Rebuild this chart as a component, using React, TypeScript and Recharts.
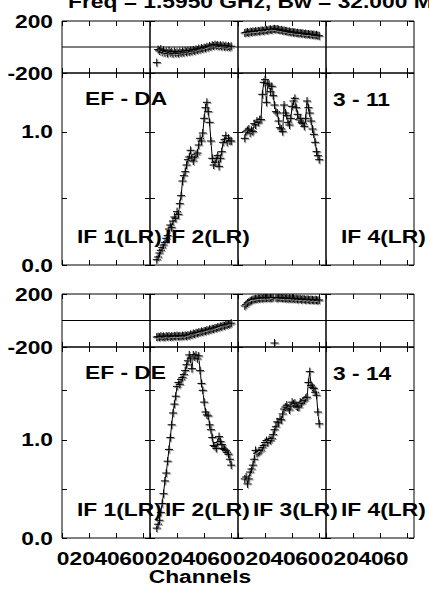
import React from "react";
import { ComposedChart, Line, XAxis, YAxis, ReferenceLine } from "recharts";

const W = 429;
const H = 594;
const FONT = "'Liberation Sans', Arial, Helvetica, sans-serif";

const title = "Freq = 1.5950 GHz, Bw = 32.000 MHz";
const ifNames = ["IF 1(LR)", "IF 2(LR)", "IF 3(LR)", "IF 4(LR)"];
const chanTicks = [0, 20, 40, 60];
const phaseTicks = [-200, 200];
const ampTicksDA = [0, 0.5, 1.0];
const ampTicksDE = [0, 0.5, 1.0, 1.5];

const channels = [
  5, 6, 7, 8, 9, 10, 11, 12, 13, 14, 15, 16, 17, 18, 19, 20, 21, 22, 23, 24, 25, 26, 27, 28,
  29, 30, 31, 32, 33, 34, 35, 36, 37, 38, 39, 40, 41, 42, 43, 44, 45, 46, 47, 48, 49, 50, 51,
  52, 53, 54, 55, 56, 57, 58, 59, 60,
];

// EF - DA  (3 - 11)
const phaseDA_IF2 = [
  -120, -20, -30, -15, -40, -25, -45, -35, -50, -30, -45, -38, -52, -35, -48, -40, -50, -36, -46,
  -34, -44, -30, -40, -28, -38, -26, -34, -22, -30, -18, -24, -12, -20, -8, -14, -4, -10, 2, -4,
  8, 2, 14, 8, 18, 10, 16, 6, 14, 4, 12, 2, 10, 0, 8, -2, 6,
];
const phaseDA_IF3 = [
  108, 112, 115, 110, 118, 115, 120, 117, 122, 119, 124, 121, 126, 128, 124, 130, 132, 128, 134,
  136, 132, 138, 140, 136, 138, 134, 130, 132, 126, 128, 122, 124, 118, 120, 114, 116, 112, 114,
  108, 110, 106, 108, 104, 106, 100, 104, 98, 100, 96, 98, 94, 96, 90, 94, 88, 86,
];
const ampDA_IF2 = [
  0.04, 0.06, 0.09, 0.11, 0.13, 0.15, 0.17, 0.2, 0.22, 0.27, 0.3, 0.28, 0.33, 0.36, 0.35, 0.4,
  0.38, 0.46, 0.52, 0.63, 0.67, 0.7, 0.75, 0.79, 0.81, 0.86, 0.8, 0.78, 0.81, 0.83, 0.84, 0.9,
  0.95, 0.93, 0.99, 1.1, 1.18, 1.22, 1.15, 1.07, 0.93, 0.8, 0.75, 0.77, 0.8, 0.82, 0.74, 0.8,
  0.85, 0.92, 0.94, 0.97, 0.92, 0.95, 0.93, 0.93,
];
const ampDA_IF3 = [
  0.95, 1.0, 1.01, 1.02, 0.99, 1.01, 1.0, 1.06, 1.05, 1.08, 1.07, 1.09, 1.09, 1.28, 1.37, 1.39,
  1.22, 1.36, 1.35, 1.3, 1.34, 1.27, 1.2, 1.15, 1.14, 1.08, 1.03, 1.02, 1.0, 1.2, 1.14, 1.12,
  1.07, 1.05, 1.1, 1.19, 1.23, 1.25, 1.18, 1.13, 1.09, 1.1, 1.07, 1.06, 1.04, 1.1, 1.23, 1.18,
  1.14, 1.08, 1.02, 0.98, 0.92, 0.85, 0.82, 0.79,
];

// EF - DE  (3 - 14)
const phaseDE_IF2 = [
  -125, -122, -126, -118, -124, -120, -126, -118, -122, -116, -124, -118, -122, -116, -120, -114,
  -120, -116, -120, -114, -118, -112, -118, -110, -114, -104, -108, -98, -102, -92, -96, -88,
  -90, -82, -86, -78, -80, -72, -76, -66, -70, -62, -64, -56, -58, -50, -52, -44, -46, -38, -40,
  -32, -34, -26, -28, -20,
];
const phaseDE_IF3 = [
  110, 120, 132, 140, 148, 152, 158, 160, 164, 162, 168, 165, 170, 166, 172, 168, 170, 174, 168,
  172, 170, 174, -170, 172, 168, 174, 170, 172, 168, 170, 166, 170, 164, 168, 166, 164, 168, 162,
  166, 160, 164, 162, 158, 162, 160, 156, 160, 158, 155, 158, 156, 153, 157, 154, 152, 155,
];
const ampDE_IF2 = [
  0.1, 0.14, 0.18, 0.26, 0.35, 0.45, 0.58, 0.66, 0.78, 0.9, 1.02, 1.15, 1.27, 1.36, 1.44, 1.54,
  1.58, 1.56, 1.61, 1.63, 1.66, 1.7, 1.76, 1.8, 1.86, 1.82, 1.72, 1.86, 1.84, 1.86, 1.82, 1.85,
  1.7, 1.57, 1.5, 1.38, 1.28, 1.25, 1.24, 1.15, 1.1, 1.02, 0.94, 0.93, 0.91, 0.97, 1.03, 0.98,
  0.95, 0.91, 0.9, 0.89, 0.87, 0.85, 0.8, 0.74,
];
const ampDE_IF3 = [
  0.6, 0.62, 0.55, 0.6, 0.67, 0.7, 0.74, 0.8, 0.89, 0.86, 0.87, 0.88, 0.89, 0.92, 0.94, 0.97,
  0.99, 0.97, 1.0, 0.99, 1.01, 1.05, 1.1, 1.13, 1.18, 1.17, 1.21, 1.2, 1.26, 1.31, 1.33, 1.35,
  1.32, 1.3, 1.34, 1.38, 1.36, 1.37, 1.34, 1.33, 1.33, 1.38, 1.37, 1.39, 1.4, 1.42, 1.43, 1.58,
  1.69, 1.55, 1.53, 1.52, 1.48, 1.45, 1.28, 1.16,
];

const baselines = [
  {
    name: "EF - DA",
    num: "3 - 11",
    ampMax: 1.44,
    ampTicks: ampTicksDA,
    phase: [null, phaseDA_IF2, phaseDA_IF3, null],
    amp: [null, ampDA_IF2, ampDA_IF3, null],
    ifShown: [true, true, false, true],
  },
  {
    name: "EF - DE",
    num: "3 - 14",
    ampMax: 1.94,
    ampTicks: ampTicksDE,
    phase: [null, phaseDE_IF2, phaseDE_IF3, null],
    amp: [null, ampDE_IF2, ampDE_IF3, null],
    ifShown: [true, true, true, true],
  },
];

// page layout (px)
const COL_LEFT = [62, 150, 238, 326];
const COL_W = 88;
const TICK = 5;
const rowsPx = [
  { phaseTop: 21, split: 73, bottom: 265 },
  { phaseTop: 294, split: 347, bottom: 538 },
];

const snap = (v: number) => Math.round(v) + 0.5;

function SText({ x, y, anchor = "start", children }: any) {
  return (
    <text
      transform={`translate(${x} ${y}) scale(1.2 1)`}
      textAnchor={anchor}
      fontFamily={FONT}
      fontWeight={700}
      fontSize={19}
      fill="#000"
    >
      {children}
    </text>
  );
}

const renderCross = (p: any) => {
  const { cx, cy, index } = p;
  if (cx == null || cy == null) return <g key={`c${index}`} />;
  return (
    <g key={`c${index}`} fill="none">
      <path
        d={`M${cx - 3},${cy + 1}H${cx + 5}M${cx + 1},${cy - 3}V${cy + 5}`}
        stroke="#9a9a9a"
        strokeWidth={1}
      />
      <path d={`M${cx - 4},${cy}H${cx + 4}M${cx},${cy - 4}V${cy + 4}`} stroke="#000" strokeWidth={1} />
    </g>
  );
};

type PanelProps = {
  col: number;
  top: number;
  bottom: number;
  domain: [number, number];
  yTicks: number[];
  phase: boolean;
  values: number[] | null;
  xLabels: boolean;
};

function Panel({ col, top, bottom, domain, yTicks, phase, values, xLabels }: PanelProps) {
  const left = COL_LEFT[col];
  const right = left + COL_W;
  const pts = values ? channels.map((ch, i) => ({ ch, v: values[i] })) : [];

  // tick marks point into the panel; labels sit outside
  const bottomTick = (p: any) => {
    const v = Number(p.payload.value);
    const dx = v === 0 ? 1 : -(4.5 + 0.115 * v);
    const x = snap(p.x);
    return (
      <g>
        <line x1={x} x2={x} y1={bottom} y2={bottom - TICK} stroke="#000" strokeWidth={1} />
        {xLabels && (
          <SText x={p.x + dx} y={bottom + 26.5} anchor="middle">
            {String(v)}
          </SText>
        )}
      </g>
    );
  };
  const topTick = (p: any) => {
    const x = snap(p.x);
    return <line x1={x} x2={x} y1={top} y2={top + TICK} stroke="#000" strokeWidth={1} />;
  };
  const leftTick = (p: any) => {
    const v = Number(p.payload.value);
    const show = col === 0 && (phase || Number.isInteger(v));
    const y = snap(p.y);
    return (
      <g>
        <line x1={left} x2={left + TICK} y1={y} y2={y} stroke="#000" strokeWidth={1} />
        {show && (
          <SText x={left - 9} y={p.y + 6.8} anchor="end">
            {phase ? String(v) : v.toFixed(1)}
          </SText>
        )}
      </g>
    );
  };
  const rightTick = (p: any) => {
    const y = snap(p.y);
    return <line x1={right - TICK} x2={right} y1={y} y2={y} stroke="#000" strokeWidth={1} />;
  };

  return (
    <div style={{ position: "absolute", left: 0, top: 0 }}>
      <ComposedChart
        width={W}
        height={H}
        margin={{ top: top - 1, bottom: H - bottom - 1, left: left - 1, right: W - right - 1 }}
      >
        <XAxis
          xAxisId="b"
          orientation="bottom"
          type="number"
          dataKey="ch"
          domain={[0, 65]}
          ticks={chanTicks}
          interval={0}
          height={1}
          tickSize={0}
          tickLine={false}
          stroke="#000"
          tick={bottomTick}
          allowDataOverflow
        />
        <XAxis
          xAxisId="t"
          orientation="top"
          type="number"
          dataKey="ch"
          domain={[0, 65]}
          ticks={chanTicks}
          interval={0}
          height={1}
          tickSize={0}
          tickLine={false}
          stroke="#000"
          tick={topTick}
          allowDataOverflow
        />
        <YAxis
          yAxisId="l"
          orientation="left"
          type="number"
          domain={domain}
          ticks={yTicks}
          interval={0}
          width={1}
          tickSize={0}
          tickLine={false}
          stroke="#000"
          tick={leftTick}
          allowDataOverflow
        />
        <YAxis
          yAxisId="r"
          orientation="right"
          type="number"
          domain={domain}
          ticks={yTicks}
          interval={0}
          width={1}
          tickSize={0}
          tickLine={false}
          stroke="#000"
          tick={rightTick}
          allowDataOverflow
        />
        {phase && <ReferenceLine y={0} xAxisId="b" yAxisId="l" stroke="#000" strokeWidth={1} />}
        {values && (
          <Line
            data={pts}
            dataKey="v"
            xAxisId="b"
            yAxisId="l"
            type="linear"
            stroke={phase ? "none" : "#000"}
            strokeWidth={1}
            dot={renderCross}
            activeDot={false}
            isAnimationActive={false}
          />
        )}
      </ComposedChart>
    </div>
  );
}

export default function App() {
  const panels: React.ReactNode[] = [];
  baselines.forEach((bl, b) => {
    const r = rowsPx[b];
    COL_LEFT.forEach((_, c) => {
      panels.push(
        <Panel
          key={`p${b}${c}`}
          col={c}
          top={r.phaseTop}
          bottom={r.split}
          domain={[-200, 200]}
          yTicks={phaseTicks}
          phase
          values={bl.phase[c]}
          xLabels={false}
        />
      );
      panels.push(
        <Panel
          key={`a${b}${c}`}
          col={c}
          top={r.split}
          bottom={r.bottom}
          domain={[0, bl.ampMax]}
          yTicks={bl.ampTicks}
          phase={false}
          values={bl.amp[c]}
          xLabels={b === baselines.length - 1}
        />
      );
    });
  });

  return (
    <div
      style={{
        position: "absolute",
        left: 0,
        top: 0,
        width: W,
        height: H,
        background: "#fff",
        overflow: "hidden",
      }}
    >
      {panels}
      <svg
        width={W}
        height={H}
        style={{ position: "absolute", left: 0, top: 0, pointerEvents: "none" }}
      >
        <SText x={68} y={8}>{title}</SText>
        {baselines.map((bl, b) => {
          const r = rowsPx[b];
          return (
            <g key={`lab${b}`}>
              <SText x={85} y={r.split + 32}>{bl.name}</SText>
              <SText x={333} y={r.split + 33}>{bl.num}</SText>
              {ifNames.map((n, c) =>
                bl.ifShown[c] ? (
                  <SText key={n} x={COL_LEFT[c] + 15} y={r.bottom - 22}>
                    {n}
                  </SText>
                ) : null
              )}
            </g>
          );
        })}
        <SText x={200} y={583} anchor="middle">Channels</SText>
      </svg>
    </div>
  );
}
